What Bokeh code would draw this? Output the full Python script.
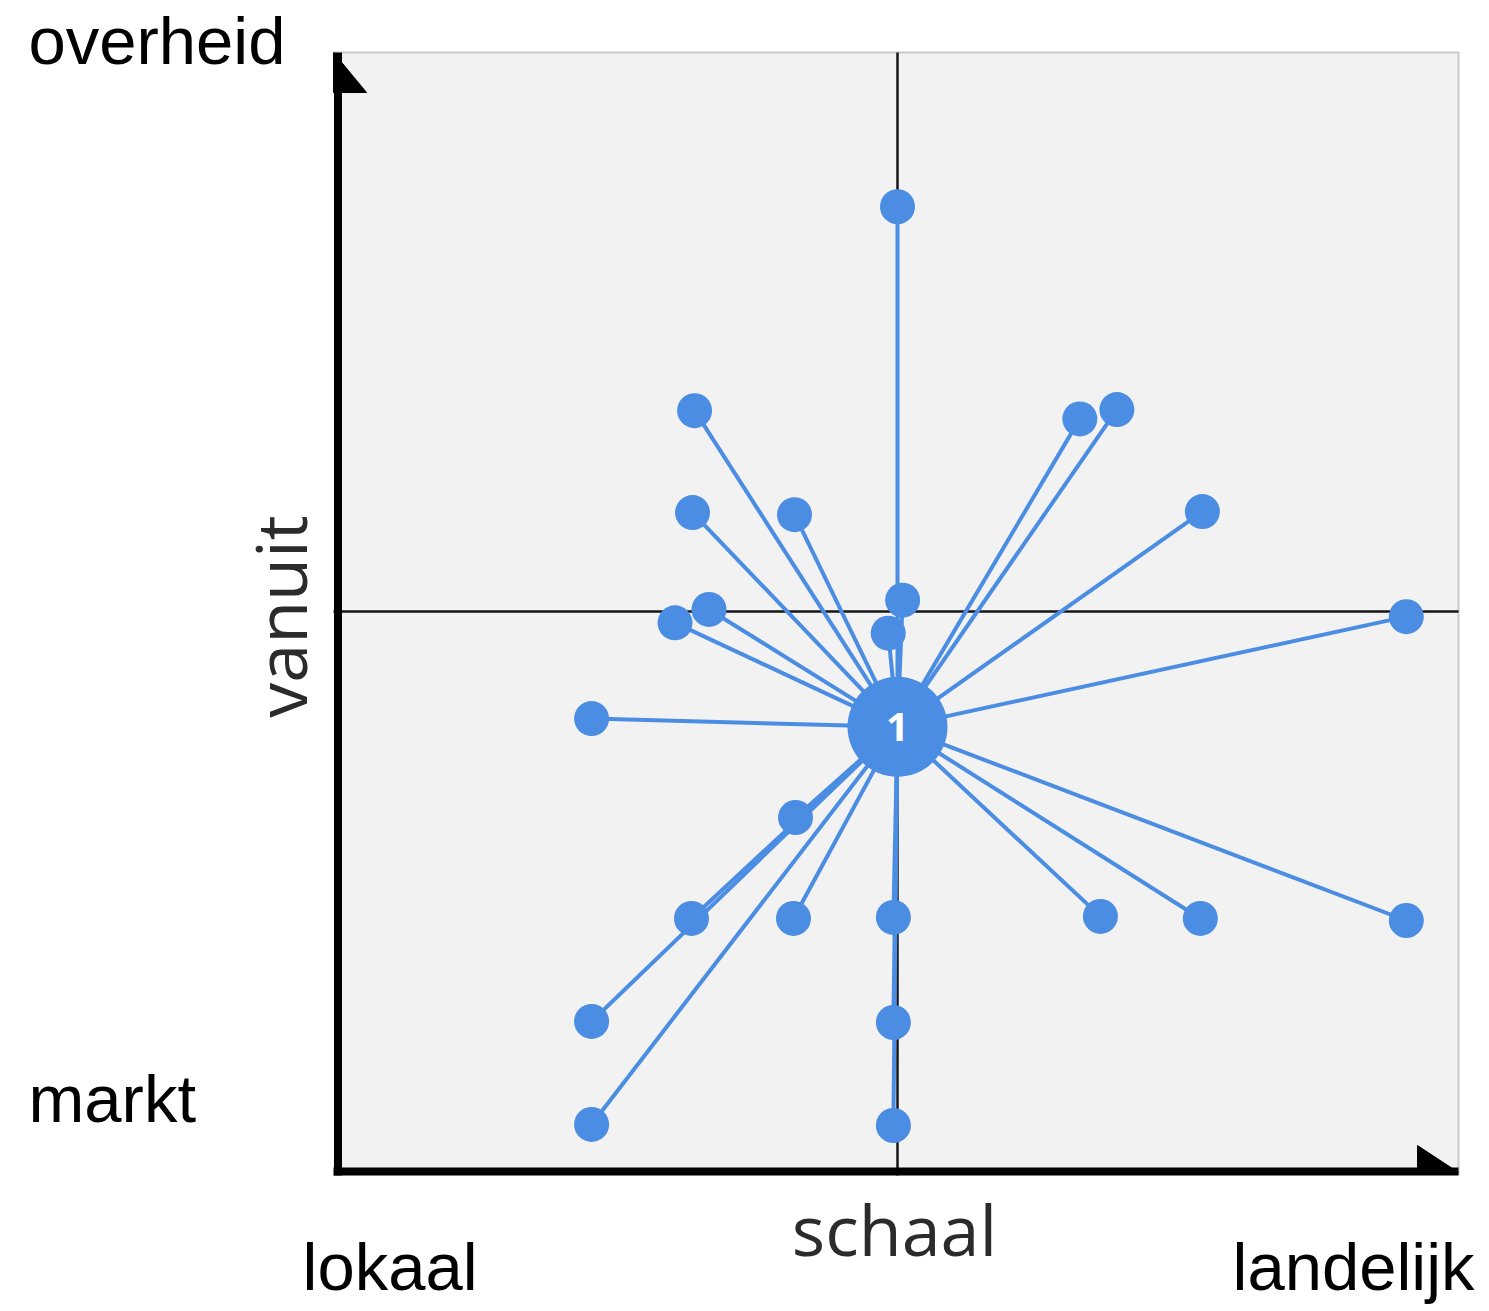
import math
from bokeh.plotting import figure
from bokeh.models import Label, Range1d, ColumnDataSource
from bokeh.core.properties import value
from bokeh.embed import file_html
from bokeh.resources import INLINE

# ---- data (grid units; centre of the cross = 0,0) ----
hub_x = [0.0]
hub_y = [-1.12]
hub_label = ["1"]

node_x = [0.0, -1.97, 1.77, 2.13, -1.99, -1.00, 2.96, 0.05, -1.83, -2.16, -0.09,
          4.94, -2.97, -0.99, -2.00, -1.01, -0.04, 1.97, 2.94, 4.94, -2.97, -0.04,
          -2.97, -0.04]
node_y = [3.93, 1.95, 1.87, 1.96, 0.96, 0.94, 0.97, 0.11, 0.02, -0.11, -0.21,
          -0.05, -1.04, -2.00, -2.98, -2.98, -2.97, -2.96, -2.98, -3.00, -3.98, -3.99,
          -4.98, -4.99]

x_title = "schaal"
y_title = "vanuit"
y_top_label = "overheid"
y_bottom_label = "markt"
x_left_label = "lokaal"
x_right_label = "landelijk"

# ---- layout (page px) ----
W, H = 1489, 1311
PX = 103.0             # px per grid unit
CX, CY = 897.0, 611.0  # page px of the origin
F_L, F_R, F_T, F_B = 333, 1458, 52, 1175


def X(px):
    return (px - CX) / PX


def Y(py):
    return (CY - py) / PX


BLUE = "#4A8DE3"

p = figure(width=W, height=H, output_backend="svg", toolbar_location=None,
           x_range=Range1d(X(0), X(W)), y_range=Range1d(Y(H), Y(0)),
           x_axis_location=None, y_axis_location=None, title=None,
           min_border=0, min_border_left=0, min_border_right=0,
           min_border_top=0, min_border_bottom=0)
p.grid.visible = False
p.background_fill_color = "white"
p.border_fill_color = "white"
p.outline_line_color = None

# plot panel
p.quad(left=[X(F_L)], right=[X(F_R)], top=[Y(F_T)], bottom=[Y(F_B)],
       fill_color="#f2f2f2", line_color=None)
p.line([X(F_L), X(F_R), X(F_R)], [Y(F_T), Y(F_T), Y(F_B)], line_color="#c9c9c9", line_width=2)

# cross lines
p.line([0, 0], [Y(F_T), Y(F_B)], line_color="#151515", line_width=2.5)
p.line([X(F_L), X(F_R)], [0, 0], line_color="#151515", line_width=2.5)

# thick axes with arrowheads
p.line([X(337.5), X(337.5)], [Y(F_T), Y(F_B)], line_color="black", line_width=8)
p.line([X(F_L), X(F_R)], [Y(1171), Y(1171)], line_color="black", line_width=8)
p.patch([X(333), X(366), X(333)], [Y(52), Y(92), Y(92)], color="black")
p.patch([X(1417), X(1458), X(1417)], [Y(1145), Y(1172), Y(1172)], color="black")

# spokes
xs = [[hub_x[0], x] for x in node_x]
ys = [[hub_y[0], y] for y in node_y]
p.multi_line(xs, ys, line_color=BLUE, line_width=4)

# nodes
p.scatter(node_x, node_y, size=35, fill_color=BLUE, line_color=None)
hub = ColumnDataSource(dict(x=hub_x, y=hub_y, t=hub_label))
p.scatter("x", "y", source=hub, size=100, fill_color=BLUE, line_color=None)
p.text("x", "y", text="t", source=hub, text_color="white", text_font_size="40px",
       text_font_style="bold", text_align="center", text_baseline="middle",
       text_font=value("Open Sans"))

# Label baseline compensation (px) measured from the render
FIX = 24

# corner labels
for txt, px_, py_ in [(y_top_label, 28, 64), (y_bottom_label, 28, 1122),
                      (x_left_label, 302, 1290), (x_right_label, 1232, 1290)]:
    p.add_layout(Label(x=X(px_), y=Y(py_ - FIX), text=txt, text_font="Liberation Sans",
                       text_font_size="67px", text_color="black", text_align="left",
                       text_baseline="alphabetic"))

# axis titles
p.add_layout(Label(x=X(894), y=Y(1252 - FIX), text=x_title, text_font="Open Sans",
                   text_font_size="70px", text_color="#2b2b2b",
                   text_align="center", text_baseline="alphabetic"))
p.add_layout(Label(x=X(303 - FIX), y=Y(616), text=y_title, text_font="Open Sans",
                   text_font_size="70px", text_color="#2b2b2b",
                   text_align="center", text_baseline="alphabetic", angle=math.pi / 2))

open("out.html", "w").write(file_html(p, INLINE))
